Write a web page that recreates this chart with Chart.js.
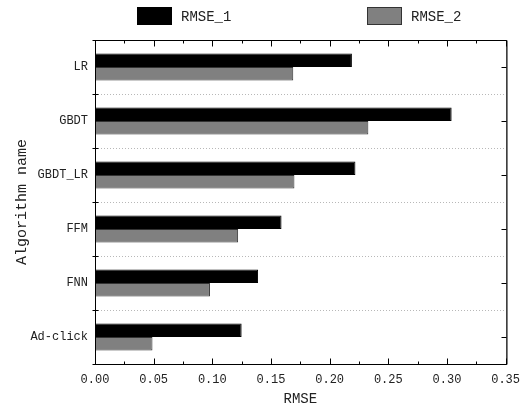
<!DOCTYPE html>
<html>
<head>
<meta charset="utf-8">
<script src="https://cdn.jsdelivr.net/npm/chart.js@4"></script>
<style>
  html, body { margin: 0; padding: 0; background: #fff; }
  #wrap { width: 529px; height: 411px; }
</style>
</head>
<body>
<div id="wrap"><canvas id="rmseChart"></canvas></div>
<script>
const algorithms = ['LR', 'GBDT', 'GBDT_LR', 'FFM', 'FNN', 'Ad-click'];
const rmse1 = [0.219, 0.304, 0.222, 0.159, 0.139, 0.125];
const rmse2 = [0.169, 0.233, 0.170, 0.122, 0.098, 0.049];
const xTicks = [0, 0.05, 0.10, 0.15, 0.20, 0.25, 0.30, 0.35];

const FONT = '"Liberation Mono", "DejaVu Sans Mono", monospace';

// dotted separators, box frame with inward ticks, and the legend row
const framePlugin = {
  id: 'frame',
  beforeDatasetsDraw(chart) {
    const { ctx, chartArea: a, scales: { y } } = chart;
    ctx.save();
    ctx.strokeStyle = '#b8b8b8';
    ctx.lineWidth = 1;
    ctx.setLineDash([1, 2]);
    for (let i = 1; i < algorithms.length; i++) {
      const py = Math.round((y.getPixelForValue(i - 1) + y.getPixelForValue(i)) / 2) + 0.5;
      ctx.beginPath();
      ctx.moveTo(a.left, py);
      ctx.lineTo(a.right, py);
      ctx.stroke();
    }
    ctx.restore();
  },
  afterDraw(chart) {
    const { ctx, chartArea: a, scales: { x, y } } = chart;
    const L = Math.round(a.left) + 0.5, R = Math.round(a.right) + 0.5;
    const T = Math.round(a.top) + 0.5, B = Math.round(a.bottom) + 0.5;
    ctx.save();
    ctx.strokeStyle = '#000';
    ctx.lineWidth = 1;
    ctx.strokeRect(L, T, R - L, B - T);
    ctx.strokeStyle = '#555';
    ctx.lineWidth = 1.5;
    ctx.beginPath(); ctx.moveTo(R + 0.5, T); ctx.lineTo(R + 0.5, B); ctx.stroke();

    ctx.strokeStyle = '#000';
    ctx.lineWidth = 1;
    ctx.beginPath();
    // x ticks, major and minor, pointing inward on top and bottom
    for (let i = 0; i < xTicks.length; i++) {
      const px = Math.round(x.getPixelForValue(xTicks[i])) + 0.5;
      ctx.moveTo(px, B); ctx.lineTo(px, B - 6);
      ctx.moveTo(px, T); ctx.lineTo(px, T + 6);
      if (i < xTicks.length - 1) {
        const mx = Math.round(x.getPixelForValue((xTicks[i] + xTicks[i + 1]) / 2)) + 0.5;
        ctx.moveTo(mx, B); ctx.lineTo(mx, B - 3);
        ctx.moveTo(mx, T); ctx.lineTo(mx, T + 3);
      }
    }
    // left ticks at category boundaries
    for (let i = 0; i <= algorithms.length; i++) {
      const py = Math.round(y.getPixelForValue(i - 0.5)) + 0.5;
      ctx.moveTo(L - 3, py); ctx.lineTo(L + 3, py);
    }
    // right ticks at category centres
    for (let i = 0; i < algorithms.length; i++) {
      const py = Math.round(y.getPixelForValue(i)) + 0.5;
      ctx.moveTo(R, py); ctx.lineTo(R - 5, py);
    }
    ctx.stroke();

    // legend
    const boxX = [137, 367];
    ctx.font = '14px ' + FONT;
    ctx.textBaseline = 'middle';
    chart.data.datasets.forEach((ds, i) => {
      ctx.fillStyle = ds.backgroundColor;
      ctx.fillRect(boxX[i], 7, 35, 18);
      ctx.strokeStyle = ds.borderColor;
      ctx.strokeRect(boxX[i] + 0.5, 7.5, 34, 17);
      ctx.fillStyle = '#222';
      ctx.fillText(ds.label, boxX[i] + 44, 17);
    });
    ctx.restore();
  }
};

new Chart(document.getElementById('rmseChart'), {
  type: 'bar',
  data: {
    labels: algorithms,
    datasets: [
      {
        label: 'RMSE_1',
        data: rmse1,
        backgroundColor: '#000000',
        borderColor: '#000000',
        borderWidth: 1,
        categoryPercentage: 0.5,
        barPercentage: 1.0,
      },
      {
        label: 'RMSE_2',
        data: rmse2,
        backgroundColor: '#808080',
        borderColor: '#333333',
        borderWidth: 1,
        categoryPercentage: 0.5,
        barPercentage: 1.0,
      },
    ],
  },
  options: {
    indexAxis: 'y',
    responsive: true,
    maintainAspectRatio: false,
    animation: false,
    layout: { padding: { top: 40, right: 22, left: 0, bottom: 0 } },
    plugins: {
      legend: { display: false },
      tooltip: { enabled: false },
    },
    scales: {
      x: {
        min: 0,
        max: 0.35,
        afterBuildTicks: (scale) => { scale.ticks = xTicks.map(v => ({ value: v })); },
        afterFit: (scale) => { scale.height = 47; },
        grid: { display: false, drawTicks: false },
        border: { display: false },
        ticks: {
          padding: 9,
          color: '#222',
          font: { family: FONT, size: 12 },
          callback: (v) => Number(v).toFixed(2),
        },
        title: {
          display: true,
          text: 'RMSE',
          color: '#222',
          font: { family: FONT, size: 14 },
          padding: { top: 0, bottom: 3 },
        },
      },
      y: {
        afterFit: (scale) => { scale.width = 95; },
        grid: { display: false, drawTicks: false },
        border: { display: false },
        ticks: {
          padding: 7,
          color: '#222',
          font: { family: FONT, size: 12 },
        },
        title: {
          display: true,
          text: 'Algorithm name',
          color: '#222',
          font: { family: FONT, size: 15 },
          padding: { top: 13, bottom: 0 },
        },
      },
    },
  },
  plugins: [framePlugin],
});
</script>
</body>
</html>
